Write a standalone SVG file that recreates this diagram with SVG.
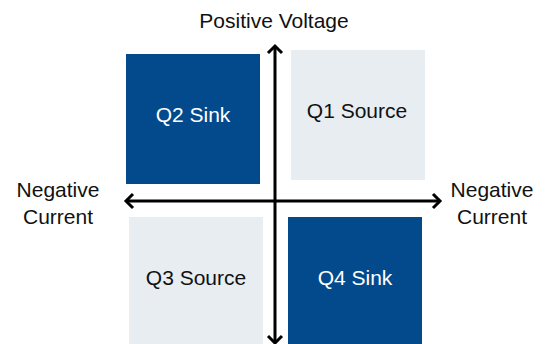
<svg xmlns="http://www.w3.org/2000/svg" width="551" height="344" viewBox="0 0 551 344">
  <style>
    text { font-family: "Liberation Sans", Arial, sans-serif; font-size: 21px; text-anchor: middle; fill: #111111; }
    .dark { fill: #034a8c; }
    .light { fill: #e8edf2; }
    .wt { fill: #ffffff; }
    .axis { stroke: #000000; stroke-width: 3; fill: none; }
  </style>
  <defs>
    <marker id="arr" markerUnits="userSpaceOnUse" markerWidth="20" markerHeight="20" refX="11" refY="10" orient="auto-start-reverse" viewBox="0 0 20 20">
      <path d="M4,3 L11,10 L4,17" fill="none" stroke="#000" stroke-width="3"/>
    </marker>
  </defs>
  <g id="q2">
    <rect class="dark" x="126" y="54" width="134" height="130"/>
    <text class="wt" x="193" y="122">Q2 Sink</text>
  </g>
  <g id="q1">
    <rect class="light" x="291" y="50" width="134" height="130"/>
    <text x="357" y="118">Q1 Source</text>
  </g>
  <g id="q3">
    <rect class="light" x="129" y="217" width="134" height="127"/>
    <text x="196" y="285">Q3 Source</text>
  </g>
  <g id="q4">
    <rect class="dark" x="288" y="217" width="134" height="127"/>
    <text class="wt" x="355" y="285">Q4 Sink</text>
  </g>
  <g id="labels">
    <text x="274" y="28">Positive Voltage</text>
    <text x="58" y="197">Negative</text>
    <text x="58" y="224">Current</text>
    <text x="492" y="197">Negative</text>
    <text x="492" y="224">Current</text>
  </g>
  <g id="connectors">
    <line class="axis" x1="275" y1="343" x2="275" y2="46" marker-start="url(#arr)" marker-end="url(#arr)"/>
    <line class="axis" x1="126" y1="201" x2="440" y2="201" marker-start="url(#arr)" marker-end="url(#arr)"/>
  </g>
</svg>
